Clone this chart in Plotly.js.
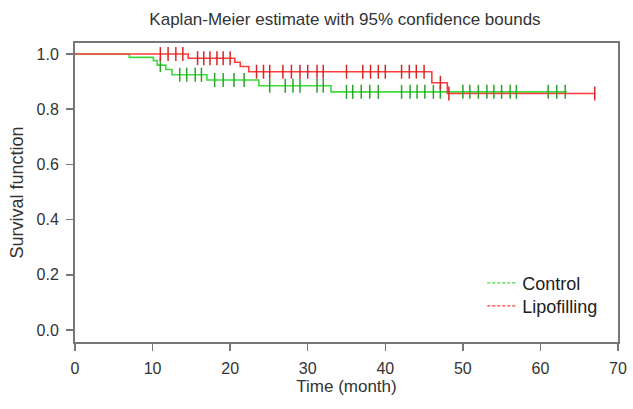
<!DOCTYPE html>
<html>
<head>
<meta charset="utf-8">
<script src="https://cdn.plot.ly/plotly-3.0.1.min.js"></script>
<style>html,body{margin:0;padding:0;background:#fff;}#chart{width:633px;height:409px;}</style>
</head>
<body>
<div id="chart"></div>
<script>
// Control group: step times (months) and survival after each step
const controlTimes = [0, 7.0, 10.1, 10.6, 11.7, 12.5, 17.0, 23.7, 33.0, 63.4];
const controlSurv  = [1.0, 0.988, 0.976, 0.960, 0.944, 0.925, 0.906, 0.885, 0.863, 0.863];
const controlCensor = [11.0, 13.5, 14.4, 15.5, 16.3, 18.0, 19.1, 20.5, 21.8, 25.1, 27.1, 28.1, 29.0, 31.2, 32.0,
  35.0, 35.8, 36.9, 38.0, 39.1, 42.1, 43.2, 44.1, 45.1, 46.2, 47.1, 50.0, 50.9, 52.0, 53.1, 54.0, 55.0, 56.1, 56.9,
  61.0, 62.1, 63.2];

// Lipofilling group
const lipoTimes = [0, 14.6, 20.6, 21.3, 22.4, 46.0, 48.0, 67.0];
const lipoSurv  = [1.0, 0.985, 0.970, 0.955, 0.936, 0.896, 0.857, 0.857];
const lipoCensor = [11.0, 12.0, 13.0, 13.9, 15.8, 16.6, 17.4, 18.3, 19.1, 20.0, 23.4, 24.3, 25.1, 26.8, 27.9, 29.0,
  30.0, 31.2, 32.0, 35.0, 37.1, 38.1, 39.1, 40.0, 42.1, 43.1, 44.0, 45.0, 47.1, 48.2, 67.0];

const xTicks = [0, 10, 20, 30, 40, 50, 60, 70];
const yTicks = [0.0, 0.2, 0.4, 0.6, 0.8, 1.0];

const GREEN = '#3ddc3d';
const RED = '#ff3b3b';

function levelAt(times, surv, t) {
  let v = surv[0];
  for (let i = 0; i < times.length; i++) { if (times[i] <= t) v = surv[i]; }
  return v;
}

const traces = [
  {x: controlTimes, y: controlSurv, mode: 'lines', line: {shape: 'hv', color: GREEN, width: 1.6}, showlegend: false, hoverinfo: 'skip'},
  {x: lipoTimes, y: lipoSurv, mode: 'lines', line: {shape: 'hv', color: RED, width: 1.6}, showlegend: false, hoverinfo: 'skip'},
  {x: controlCensor, y: controlCensor.map(t => levelAt(controlTimes, controlSurv, t)), mode: 'markers',
   marker: {symbol: 'line-ns-open', size: 10, line: {color: GREEN, width: 1.5}}, showlegend: false, hoverinfo: 'skip'},
  {x: lipoCensor, y: lipoCensor.map(t => levelAt(lipoTimes, lipoSurv, t)), mode: 'markers',
   marker: {symbol: 'line-ns-open', size: 10, line: {color: RED, width: 1.5}}, showlegend: false, hoverinfo: 'skip'},
  {x: [null], y: [null], mode: 'lines', name: 'Control', legend: 'legend', line: {color: GREEN, width: 1.3, dash: '3px,2px'}},
  {x: [null], y: [null], mode: 'lines', name: 'Lipofilling', legend: 'legend2', line: {color: RED, width: 1.3, dash: '3px,2px'}}
];

const legendBase = {x: 0.75, xanchor: 'left', yanchor: 'middle', bgcolor: 'rgba(0,0,0,0)', font: {size: 18, color: '#222'},
                    itemwidth: 30};

const layout = {
  width: 633, height: 409,
  margin: {l: 75, r: 15, t: 43, b: 67},
  paper_bgcolor: '#fff', plot_bgcolor: '#fff',
  font: {family: 'Liberation Sans, Arial, sans-serif', size: 16, color: '#333'},
  title: {text: 'Kaplan-Meier estimate with 95% confidence bounds', x: 0.545, xanchor: 'center', y: 0.953, yanchor: 'middle',
          font: {size: 17, color: '#333'}},
  xaxis: {range: [0, 70], tickvals: xTicks, ticktext: xTicks.map(String), ticks: 'outside', ticklen: 7, tickwidth: 1.5,
          tickcolor: '#777', showline: true, linecolor: '#777', linewidth: 2, mirror: true, showgrid: false, zeroline: false,
          ticklabelstandoff: 4,
          title: {text: 'Time (month)', font: {size: 17, color: '#333'}, standoff: 4}, tickfont: {size: 16, color: '#333'}},
  yaxis: {range: [-0.0435, 1.040], tickvals: yTicks, ticktext: yTicks.map(v => v.toFixed(1)), ticks: 'outside', ticklen: 7, tickwidth: 1.5,
          tickcolor: '#777', showline: true, linecolor: '#777', linewidth: 2, mirror: true, showgrid: false, zeroline: false,
          ticklabelstandoff: 4,
          title: {text: 'Survival function', font: {size: 18, color: '#333'}, standoff: 8}, tickfont: {size: 16, color: '#333'}},
  legend: Object.assign({}, legendBase, {y: 0.197}),
  legend2: Object.assign({}, legendBase, {y: 0.12})
};

Plotly.newPlot('chart', traces, layout, {staticPlot: true, displayModeBar: false});
</script>
</body>
</html>
